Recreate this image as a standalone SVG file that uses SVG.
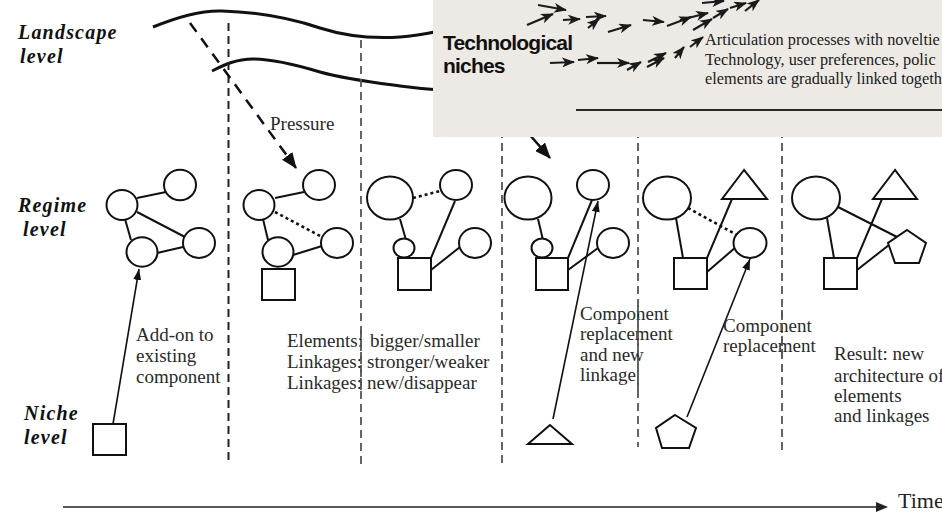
<svg xmlns="http://www.w3.org/2000/svg" width="942" height="519" viewBox="0 0 942 519">
<style>
.lvl{font-family:"Liberation Serif",serif;font-weight:bold;font-style:italic;font-size:20px;letter-spacing:1.2px;fill:#111}
.lbl{font-family:"Liberation Serif",serif;font-size:19px;fill:#2a2a2a}
.ptx{font-family:"Liberation Serif",serif;font-size:16.3px;fill:#1a1a1a}
.tn{font-family:"Liberation Sans",Arial,sans-serif;font-weight:bold;font-size:21px;letter-spacing:-0.8px;fill:#111}
.n{fill:#fff;stroke:#111;stroke-width:2}
.e{stroke:#111;stroke-width:2;fill:none}
.d{stroke:#111;stroke-width:2.6;stroke-dasharray:3,3;fill:none}
.vd{stroke:#555;stroke-width:1.8;stroke-dasharray:8,5;fill:none}
.wave{stroke:#111;stroke-width:3;fill:none}
.pa{stroke:#1a1a1a;stroke-width:2.2;fill:none;marker-end:url(#ah)}
.na{stroke:#111;stroke-width:1.6;fill:none;marker-end:url(#ah2)}
</style>
<defs>
<marker id="ah" markerUnits="userSpaceOnUse" markerWidth="13" markerHeight="10" refX="12" refY="5" orient="auto"><path d="M0,0 L13,5 L0,10 L3.5,5 z" fill="#1a1a1a"/></marker>
<marker id="ah2" markerUnits="userSpaceOnUse" markerWidth="11" markerHeight="8" refX="11" refY="4" orient="auto"><path d="M0,0 L11,4 L0,8 z" fill="#111"/></marker>
<marker id="ahp" markerUnits="userSpaceOnUse" markerWidth="16" markerHeight="13" refX="15" refY="6.5" orient="auto"><path d="M0,0 L16,6.5 L0,13 z" fill="#111"/></marker>
</defs>
<rect width="942" height="519" fill="#fff"/>

<g id="landscape">
<path class="wave" d="M153,27 C175,18 200,10 222,11 C255,12 290,18 320,28 C345,36 370,39 400,37 C415,36 425,34 440,31"/>
<path class="wave" d="M212,71 C222,66 235,59 253,59 C275,59 300,66 320,72 C345,79 370,82 400,86 C415,88 425,89 440,90"/>
</g>

<g id="connectors">
<line x1="228.5" y1="23" x2="228.5" y2="462" stroke="#222" stroke-width="2" stroke-dasharray="8,5"/>
<line class="vd" x1="361" y1="40" x2="361" y2="467"/>
<line class="vd" x1="502" y1="130" x2="502" y2="463"/>
<line class="vd" x1="638" y1="130" x2="638" y2="447"/>
<line class="vd" x1="782" y1="130" x2="782" y2="450"/>
<line x1="190" y1="23" x2="296" y2="168" stroke="#111" stroke-width="2.5" stroke-dasharray="11,8" marker-end="url(#ahp)"/>
<line x1="515" y1="118" x2="550" y2="158" stroke="#111" stroke-width="2.5" marker-end="url(#ahp)"/>
</g>

<g id="niches-panel">
<rect x="433" y="0" width="509" height="137" fill="#EDEAE6"/>
<line x1="576" y1="110" x2="942" y2="110" stroke="#2a2a2a" stroke-width="2"/>
<text class="tn" x="443" y="50">Technological</text>
<text class="tn" x="443" y="73">niches</text>
<text class="ptx" x="705" y="45">Articulation processes with noveltie</text>
<text class="ptx" x="705" y="65">Technology, user preferences, polic</text>
<text class="ptx" x="705" y="84">elements are gradually linked togeth</text>
<g id="niche-arrows">
<line class="pa" x1="527" y1="25" x2="553" y2="14"/>
<line class="pa" x1="538" y1="5" x2="566" y2="10"/>
<line class="pa" x1="563" y1="20" x2="580" y2="19"/>
<line class="pa" x1="586" y1="17" x2="606" y2="16"/>
<line class="pa" x1="588" y1="28" x2="599" y2="19"/>
<line class="pa" x1="608" y1="32" x2="631" y2="25"/>
<line class="pa" x1="643" y1="20" x2="664" y2="22"/>
<line class="pa" x1="667" y1="26" x2="691" y2="17"/>
<line class="pa" x1="680" y1="20" x2="708" y2="13"/>
<line class="pa" x1="693" y1="30" x2="712" y2="19"/>
<line class="pa" x1="702" y1="3" x2="724" y2="1"/>
<line class="pa" x1="713" y1="18" x2="728" y2="9"/>
<line class="pa" x1="730" y1="8" x2="746" y2="3"/>
<line class="pa" x1="745" y1="11" x2="759" y2="0"/>
<line class="pa" x1="550" y1="63" x2="574" y2="62"/>
<line class="pa" x1="578" y1="60" x2="598" y2="58"/>
<line class="pa" x1="597" y1="63" x2="629" y2="63"/>
<line class="pa" x1="627" y1="70" x2="641" y2="62"/>
<line class="pa" x1="647" y1="67" x2="664" y2="58"/>
<line class="pa" x1="648" y1="62" x2="666" y2="53"/>
<line class="pa" x1="675" y1="58" x2="684" y2="47"/>
<line class="pa" x1="690" y1="47" x2="703" y2="37"/>
</g>
</g>

<g id="level-labels">
<text class="lvl" x="18" y="39">Landscape</text>
<text class="lvl" x="20" y="63">level</text>
<text class="lvl" x="18" y="212">Regime</text>
<text class="lvl" x="23" y="236">level</text>
<text class="lvl" x="24" y="420">Niche</text>
<text class="lvl" x="24" y="444">level</text>
</g>
<text class="lbl" x="270" y="130">Pressure</text>

<g id="edges">
<line class="e" x1="137" y1="198" x2="166" y2="192"/>
<line class="e" x1="125" y1="219" x2="131" y2="240"/>
<line class="e" x1="137" y1="212" x2="185" y2="237"/>
<line class="e" x1="157" y1="253" x2="183" y2="247"/>
<line class="na" x1="113" y1="424" x2="139" y2="269"/>
<line class="e" x1="275" y1="198" x2="304" y2="192"/>
<line class="e" x1="263" y1="219" x2="268" y2="240"/>
<line class="d" x1="275" y1="212" x2="322" y2="237"/>
<line class="e" x1="293" y1="255" x2="322" y2="246"/>
<line class="d" x1="413" y1="198" x2="440" y2="191"/>
<line class="e" x1="400" y1="219" x2="406" y2="240"/>
<line class="e" x1="431" y1="258" x2="455" y2="201"/>
<line class="e" x1="431" y1="270" x2="460" y2="247"/>
<line class="e" x1="538" y1="219" x2="543" y2="240"/>
<line class="e" x1="568" y1="258" x2="592" y2="200"/>
<line class="e" x1="568" y1="270" x2="598" y2="248"/>
<line class="na" x1="553" y1="419" x2="598" y2="201"/>
<line class="e" x1="676" y1="218" x2="683" y2="258"/>
<line class="e" x1="707" y1="258" x2="732" y2="199"/>
<line class="e" x1="707" y1="272" x2="736" y2="247"/>
<line class="d" x1="688" y1="208" x2="737" y2="235"/>
<line class="na" x1="687" y1="417" x2="750" y2="259"/>
<line class="e" x1="827" y1="218" x2="834" y2="258"/>
<line class="e" x1="857" y1="258" x2="882" y2="199"/>
<line class="e" x1="857" y1="270" x2="889" y2="245"/>
<line class="e" x1="838" y1="207" x2="897" y2="237"/>
</g>

<g id="p1-a"><ellipse class="n" cx="122" cy="205" rx="15.5" ry="15"/></g>
<g id="p1-b"><ellipse class="n" cx="180" cy="185" rx="16" ry="15.3"/></g>
<g id="p1-c"><ellipse class="n" cx="199" cy="243" rx="16" ry="15"/></g>
<g id="p1-d"><ellipse class="n" cx="142" cy="252" rx="15.5" ry="14.7"/></g>
<g id="p1-niche"><rect class="n" x="93" y="424" width="33" height="31"/></g>

<g id="p2-a"><ellipse class="n" cx="259" cy="205" rx="15.5" ry="15"/></g>
<g id="p2-b"><ellipse class="n" cx="319" cy="185" rx="16" ry="15"/></g>
<g id="p2-c"><ellipse class="n" cx="337" cy="243" rx="16" ry="15"/></g>
<g id="p2-d"><ellipse class="n" cx="278" cy="252" rx="15.5" ry="14.7"/></g>
<g id="p2-sq"><rect class="n" x="262" y="269" width="33" height="31"/></g>

<g id="p3-big"><ellipse class="n" cx="390" cy="198" rx="23" ry="21.5"/></g>
<g id="p3-top"><ellipse class="n" cx="456" cy="185" rx="16" ry="15"/></g>
<g id="p3-small"><ellipse class="n" cx="404" cy="248" rx="10.5" ry="9.5"/></g>
<g id="p3-right"><ellipse class="n" cx="475" cy="243" rx="16" ry="15"/></g>
<g id="p3-sq"><rect class="n" x="398" y="258" width="33" height="32"/></g>

<g id="p4-big"><ellipse class="n" cx="528" cy="198" rx="23.5" ry="21.5"/></g>
<g id="p4-top"><ellipse class="n" cx="593" cy="185" rx="16" ry="15"/></g>
<g id="p4-small"><ellipse class="n" cx="542" cy="248" rx="10.5" ry="9.5"/></g>
<g id="p4-right"><ellipse class="n" cx="613" cy="243" rx="16" ry="15"/></g>
<g id="p4-sq"><rect class="n" x="536" y="258" width="32" height="32"/></g>
<g id="p4-niche-triangle"><polygon class="n" points="550,425 528,444 572,444"/></g>

<g id="p5-big"><ellipse class="n" cx="667" cy="198" rx="24" ry="21.5"/></g>
<g id="p5-triangle"><polygon class="n" points="744,170 722,199 767,199"/></g>
<g id="p5-circle"><ellipse class="n" cx="750" cy="243" rx="16.5" ry="15"/></g>
<g id="p5-sq"><rect class="n" x="674" y="258" width="33" height="31"/></g>
<g id="p5-niche-pentagon"><polygon class="n" points="675,415 696,428 689,448 662,448 656,428"/></g>

<g id="p6-big"><ellipse class="n" cx="816" cy="198" rx="24" ry="21.5"/></g>
<g id="p6-triangle"><polygon class="n" points="895,170 873,199 917,199"/></g>
<g id="p6-pentagon"><polygon class="n" points="907,230 926,243 919,263 895,263 888,243"/></g>
<g id="p6-sq"><rect class="n" x="824" y="258" width="33" height="31"/></g>

<g id="texts">
<text class="lbl"><tspan x="136" y="341">Add-on to</tspan><tspan x="136" y="362">existing</tspan><tspan x="136" y="383">component</tspan></text>
<text class="lbl"><tspan x="287" y="347">Elements:</tspan><tspan x="287" y="368">Linkages:</tspan><tspan x="287" y="389">Linkages:</tspan></text>
<text class="lbl"><tspan x="370" y="347">bigger/smaller</tspan><tspan x="367" y="368">stronger/weaker</tspan><tspan x="367" y="389">new/disappear</tspan></text>
<text class="lbl"><tspan x="580" y="320">Component</tspan><tspan x="580" y="340">replacement</tspan><tspan x="580" y="361">and new</tspan><tspan x="580" y="381">linkage</tspan></text>
<text class="lbl"><tspan x="723" y="332">Component</tspan><tspan x="723" y="352">replacement</tspan></text>
<text class="lbl"><tspan x="834" y="360">Result: new</tspan><tspan x="834" y="382">architecture of</tspan><tspan x="834" y="402">elements</tspan><tspan x="834" y="422">and linkages</tspan></text>
</g>

<g id="overlay-dashes">
<line class="vd" x1="361" y1="330" x2="361" y2="395"/>
<line class="vd" x1="638" y1="305" x2="638" y2="390"/>
<line class="vd" x1="782" y1="310" x2="782" y2="360"/>
</g>

<g id="time-axis">
<line x1="63" y1="507" x2="878" y2="507" stroke="#222" stroke-width="1.6"/>
<polygon points="876,502 888,507 876,512" fill="#222"/>
<text x="898" y="508" font-family="Liberation Serif, serif" font-size="22" fill="#222">Time</text>
</g>
</svg>
